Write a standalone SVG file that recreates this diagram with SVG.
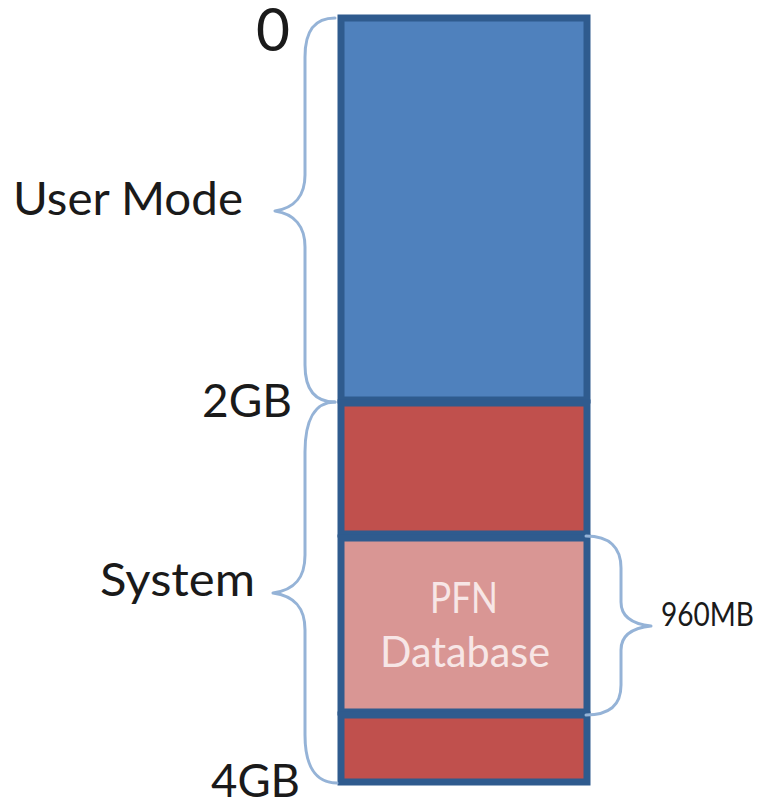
<svg xmlns="http://www.w3.org/2000/svg" width="759" height="800" viewBox="0 0 759 800">
  <style>
    .seg { stroke: #2f5b8e; stroke-width: 7; }
    .blue { fill: #4f81bd; }
    .red { fill: #c0504d; }
    .pink { fill: #d99694; }
    .brace { fill: none; stroke: #95b3d7; stroke-width: 3; stroke-linecap: round; stroke-linejoin: round; }
    .lbl { font-family: Lato, "Open Sans", "Liberation Sans", sans-serif; fill: #1a1a1a; }
    .in { font-family: Lato, "Open Sans", "Liberation Sans", sans-serif; fill: #f7e6e6; font-size: 42px; }
  </style>
  <rect width="759" height="800" fill="#ffffff"/>
  <g id="user-mode-block">
    <rect class="seg blue" x="341" y="18" width="246" height="382"/>
  </g>
  <g id="system-upper-block">
    <rect class="seg red" x="341" y="403" width="246" height="131"/>
  </g>
  <g id="pfn-database-block">
    <rect class="seg pink" x="341" y="538" width="246" height="174"/>
    <text class="in" x="430" y="613" textLength="68" lengthAdjust="spacingAndGlyphs">PFN</text>
    <text class="in" x="380" y="667" textLength="170" lengthAdjust="spacingAndGlyphs">Database</text>
  </g>
  <g id="system-lower-block">
    <rect class="seg red" x="341" y="715" width="246" height="67"/>
  </g>
  <g id="braces">
    <path class="brace" d="M335,18 C315,18 305,30 305,57 L305,175 C305,195 295,208 275,211 C295,214 305,227 305,247 L305,365 C305,390 315,402 335,402"/>
    <path class="brace" d="M335,402 C315,402 305,420 305,452 L305,555 C305,578 295,590 273,593 C295,596 305,608 305,630 L305,735 C305,765 315,783 337,783"/>
    <path class="brace" d="M586,536 C610,536 621,548 621,568 L621,602 C621,616 632,624 651,626 C632,628 621,636 621,650 L621,685 C621,705 610,715 586,715"/>
  </g>
  <g id="labels">
    <text class="lbl" x="256" y="51" font-size="60" textLength="34" lengthAdjust="spacingAndGlyphs">0</text>
    <text class="lbl" x="13" y="215" font-size="47" textLength="230" lengthAdjust="spacingAndGlyphs">User Mode</text>
    <text class="lbl" x="202" y="417" font-size="47" textLength="90" lengthAdjust="spacingAndGlyphs">2GB</text>
    <text class="lbl" x="100" y="596" font-size="47" textLength="155" lengthAdjust="spacingAndGlyphs">System</text>
    <text class="lbl" x="211" y="797" font-size="47" textLength="89" lengthAdjust="spacingAndGlyphs">4GB</text>
    <text class="lbl" x="661" y="626" font-size="32" textLength="93" lengthAdjust="spacingAndGlyphs">960MB</text>
  </g>
</svg>
